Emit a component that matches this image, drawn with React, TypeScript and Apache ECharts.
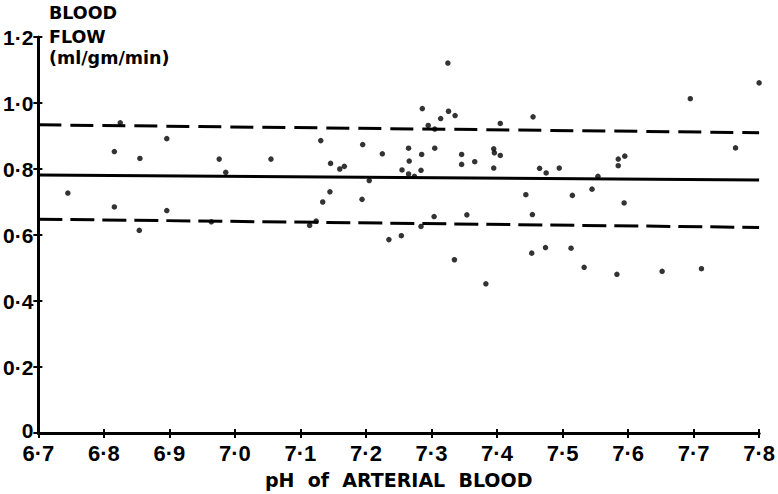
import React, { useEffect, useRef } from "react";
import * as echarts from "echarts";

// pH of arterial blood (x) and blood flow in ml/gm/min (y) for each observation
const phValues = [
  6.745, 6.816, 6.816, 6.825, 6.855, 6.854, 6.896, 6.896, 6.964, 6.976,
  6.986, 7.055, 7.114, 7.124, 7.131, 7.134, 7.145, 7.146, 7.16, 7.167,
  7.194, 7.195, 7.205, 7.225, 7.235, 7.254, 7.255, 7.265, 7.266, 7.265,
  7.274, 7.284, 7.285, 7.286, 7.284, 7.295, 7.305, 7.305, 7.304, 7.314,
  7.325, 7.326, 7.336, 7.335, 7.346, 7.346, 7.354, 7.366, 7.383, 7.395,
  7.396, 7.395, 7.405, 7.405, 7.444, 7.453, 7.454, 7.455, 7.465, 7.474,
  7.475, 7.495, 7.513, 7.515, 7.533, 7.545, 7.554, 7.583, 7.585, 7.585,
  7.594, 7.595, 7.652, 7.695, 7.712, 7.764, 7.8,
];
const flowValues = [
  0.727, 0.853, 0.685, 0.94, 0.832, 0.614, 0.892, 0.674, 0.64, 0.83,
  0.79, 0.83, 0.629, 0.642, 0.886, 0.7, 0.731, 0.817, 0.8, 0.808,
  0.708, 0.874, 0.765, 0.846, 0.586, 0.598, 0.797, 0.863, 0.824, 0.785,
  0.778, 0.796, 0.844, 0.983, 0.626, 0.932, 0.921, 0.863, 0.656, 0.953,
  1.121, 0.975, 0.962, 0.525, 0.844, 0.814, 0.661, 0.822, 0.452, 0.861,
  0.849, 0.803, 0.841, 0.938, 0.722, 0.545, 0.662, 0.958, 0.802, 0.562,
  0.788, 0.803, 0.56, 0.72, 0.502, 0.739, 0.778, 0.481, 0.83, 0.81,
  0.697, 0.839, 0.49, 1.013, 0.498, 0.864, 1.061,
];

// Reference lines (mean and limits), end points at pH 6.7 and 7.8
const lineX = [6.7, 7.8];
const meanLine = [0.782, 0.767];
const upperLine = [0.934, 0.91];
const lowerLine = [0.648, 0.623];

const xTicks = { min: 6.7, max: 7.8, interval: 0.1 };
const yTicks = { min: 0, max: 1.2, interval: 0.2 };

const yTitleLines = ["BLOOD", "FLOW", "(ml/gm/min)"];
const xTitle = "pH  of  ARTERIAL  BLOOD";

const INK = "#000";
const NUM_FONT = "'Liberation Sans Narrow', 'Liberation Sans', sans-serif";

const fmt = (v: number) => {
  if (Math.abs(v) < 1e-9) return "0";
  return v.toFixed(1).replace(".", "·");
};
const fmtY = (v: number) => {
  if (Math.abs(v) < 1e-9) return "{z|0}";
  return fmt(v);
};

export default function App() {
  const ref = useRef<HTMLDivElement>(null);
  useEffect(() => {
    if (!ref.current) return;
    const chart = echarts.init(ref.current, null, { renderer: "svg" });
    const points = phValues.map((x, i) => [x, flowValues[i]]);
    const mk = (ys: number[]) => lineX.map((x, i) => [x, ys[i]]);
    const labelFont = {
      fontFamily: NUM_FONT,
      fontWeight: "bold" as const,
      color: INK,
    };
    chart.setOption({
      animation: false,
      backgroundColor: "#fff",
      grid: { left: 37, right: 14, top: 37, bottom: 57, containLabel: false },
      xAxis: [
        {
          type: "value",
          ...xTicks,
          position: "bottom",
          name: xTitle,
          nameLocation: "middle",
          nameGap: 37,
          nameTextStyle: {
            fontFamily: "DejaVu Sans",
            fontWeight: "bold",
            fontSize: 19,
            color: INK,
          },
          axisLine: { show: true, lineStyle: { color: INK, width: 3 } },
          axisTick: { show: true, inside: false, length: 5, lineStyle: { color: INK, width: 2 } },
          axisLabel: { ...labelFont, fontSize: 22, lineHeight: 18, margin: 11, formatter: fmt },
          splitLine: { show: false },
        },
        {
          type: "value",
          ...xTicks,
          position: "bottom",
          axisLine: { show: false },
          axisTick: { show: true, inside: true, length: 4, lineStyle: { color: INK, width: 2 } },
          axisLabel: { show: false },
          splitLine: { show: false },
        },
      ],
      yAxis: [
        {
          type: "value",
          ...yTicks,
          position: "left",
          axisLine: { show: true, lineStyle: { color: INK, width: 3 } },
          axisTick: { show: true, inside: false, length: 5, lineStyle: { color: INK, width: 2 } },
          axisLabel: {
            ...labelFont,
            fontSize: 21,
            lineHeight: 16,
            margin: 5,
            formatter: fmtY,
            rich: {
              z: {
                fontFamily: NUM_FONT,
                fontWeight: "bold",
                fontSize: 21,
                color: INK,
                padding: [0, 0, 6, 0],
              },
            },
          },
          splitLine: { show: false },
        },
        {
          type: "value",
          ...yTicks,
          position: "left",
          axisLine: { show: false },
          axisTick: { show: true, inside: true, length: 4, lineStyle: { color: INK, width: 2 } },
          axisLabel: { show: false },
          splitLine: { show: false },
        },
      ],
      graphic: yTitleLines.map((t, i) => ({
        type: "text",
        left: 49,
        top: [4, 28, 49][i],
        style: {
          text: t,
          fill: INK,
          font: "bold 17.5px 'DejaVu Sans'",
        },
      })),
      series: [
        {
          type: "line",
          data: mk(meanLine),
          symbol: "none",
          lineStyle: { color: INK, width: 3 },
        },
        {
          type: "line",
          data: mk(upperLine),
          symbol: "none",
          lineStyle: { color: INK, width: 3, type: [23, 9] },
        },
        {
          type: "line",
          data: mk(lowerLine),
          symbol: "none",
          lineStyle: { color: INK, width: 3, type: [24, 8] },
        },
        {
          type: "scatter",
          data: points,
          symbolSize: 5.5,
          itemStyle: { color: INK },
          clip: false,
        },
      ],
    });
    return () => chart.dispose();
  }, []);
  return (
    <div
      ref={ref}
      style={{ position: "fixed", left: 0, top: 0, width: 778, height: 494, background: "#fff" }}
    />
  );
}
